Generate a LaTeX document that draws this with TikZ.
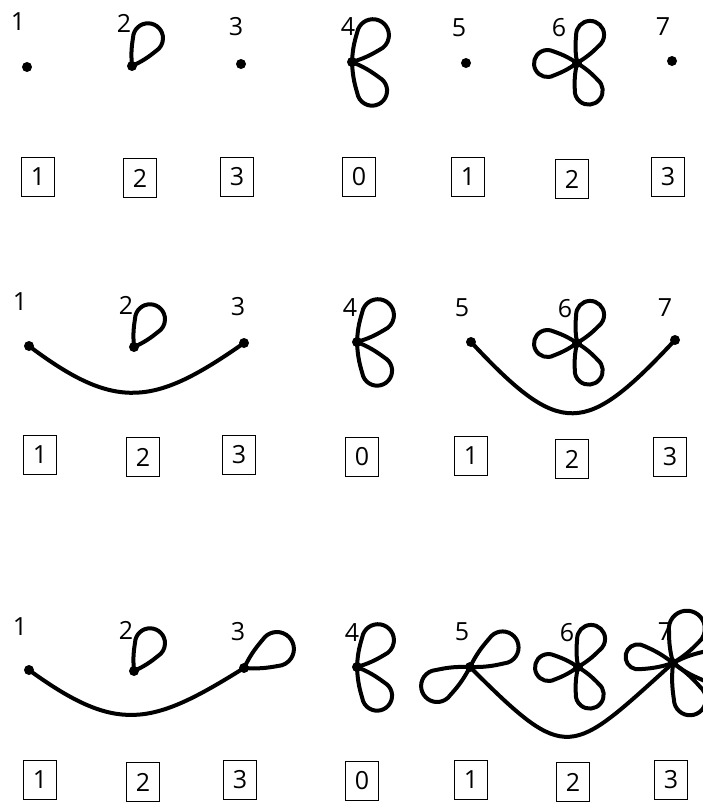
\documentclass[tikz,border=0pt]{standalone}
\usepackage{fontspec}
\setmainfont{Open Sans}
\usetikzlibrary{calc}
% teardrop loop at a node: #1 node, #2 axis angle, #3 tip distance, #4 tip radius
\newcommand{\petal}[4]{%
  \pgfmathsetmacro\ptD{#3-#4}%
  \pgfmathsetmacro\ptd{asin(#4/\ptD)}%
  \pgfmathsetmacro\ptT{sqrt(\ptD*\ptD-#4*#4)}%
  \pgfmathsetmacro\ptA{#2+\ptd}%
  \pgfmathsetmacro\ptS{#2+\ptd+90}%
  \pgfmathsetmacro\ptE{#2-\ptd-90}%
  \draw[edge] (#1.center) to[bend left=7] ++(\ptA:\ptT) arc[start angle=\ptS,end angle=\ptE,radius=#4] to[bend left=7] (#1.center);}
\begin{document}
\begin{tikzpicture}[x=1pt,y=1pt,
  dot/.style={circle,fill=black,inner sep=0pt,minimum size=10pt},
  edge/.style={line width=4pt,line cap=round,line join=round},
  num/.style={font=\fontsize{25}{25}\selectfont,inner sep=0pt},
  boxed/.style={draw,line width=1.7pt,minimum width=33pt,minimum height=39pt,inner sep=0pt,font=\fontsize{25}{25}\selectfont}]
\useasboundingbox (0,0) rectangle (703,-804);
\clip (0,0) rectangle (703,-804);
% ---------- row 1 ----------
\node[dot] (a1) at (27,-67) {};
\node[dot] (a2) at (132,-66) {};
\node[dot] (a3) at (241,-64) {};
\node[dot] (a4) at (352,-62) {};
\node[dot] (a5) at (466,-63) {};
\node[dot] (a6) at (577,-63) {};
\node[dot] (a7) at (672,-61) {};
\node[num] (la1) at (18,-22) {1};
\node[num] (la2) at (124,-23) {2};
\node[num] (la3) at (236,-27) {3};
\node[num] (la4) at (348,-27) {4};
\node[num] (la5) at (459,-28) {5};
\node[num] (la6) at (559,-28) {6};
\node[num] (la7) at (663,-27) {7};
\petal{a2}{60}{47}{15}
\petal{a4}{52}{50}{16}
\petal{a4}{-55}{50}{15}
\petal{a6}{65}{45}{14}
\petal{a6}{181}{43}{13.5}
\petal{a6}{-67}{44}{14}
\node[boxed] (ba1) at (38,-177) {1};
\node[boxed] (ba2) at (140,-178) {2};
\node[boxed] (ba3) at (237,-177) {3};
\node[boxed] (ba4) at (359,-177) {0};
\node[boxed] (ba5) at (468,-177) {1};
\node[boxed] (ba6) at (572,-179) {2};
\node[boxed] (ba7) at (668,-177) {3};
% ---------- row 2 ----------
\node[dot] (b1) at (29,-346) {};
\node[dot] (b2) at (134,-347) {};
\node[dot] (b3) at (244,-343) {};
\node[dot] (b4) at (357,-342) {};
\node[dot] (b5) at (471,-342) {};
\node[dot] (b6) at (577,-343) {};
\node[dot] (b7) at (675,-340) {};
\node[num] (lb1) at (20,-302) {1};
\node[num] (lb2) at (126,-305) {2};
\node[num] (lb3) at (238,-307) {3};
\node[num] (lb4) at (350,-308) {4};
\node[num] (lb5) at (462,-308) {5};
\node[num] (lb6) at (565,-309) {6};
\node[num] (lb7) at (665,-308) {7};
\petal{b2}{60}{47}{15}
\petal{b4}{52}{50}{16}
\petal{b4}{-55}{50}{15}
\petal{b6}{65}{45}{14}
\petal{b6}{181}{43}{13.5}
\petal{b6}{-67}{44}{14}
\draw[edge] (b1.center) to[out=-37,in=-145,looseness=1.3] (b3.center);
\draw[edge] (b5.center) to[out=-47,in=-133,looseness=1.65] (b7.center);
\node[boxed] (bb1) at (40,-455) {1};
\node[boxed] (bb2) at (143,-457) {2};
\node[boxed] (bb3) at (239,-455) {3};
\node[boxed] (bb4) at (362,-457) {0};
\node[boxed] (bb5) at (471,-456) {1};
\node[boxed] (bb6) at (572,-459) {2};
\node[boxed] (bb7) at (670,-457) {3};
% ---------- row 3 ----------
\node[dot] (c1) at (29,-670) {};
\node[dot] (c2) at (134,-671) {};
\node[dot] (c3) at (244,-668) {};
\node[dot] (c4) at (357,-667) {};
\node[dot] (c5) at (470,-667) {};
\node[dot] (c6) at (578,-667) {};
\node[dot] (c7) at (673,-663) {};
\node[num] (lc1) at (20,-627) {1};
\node[num] (lc2) at (126,-630) {2};
\node[num] (lc3) at (238,-632) {3};
\node[num] (lc4) at (352,-633) {4};
\node[num] (lc5) at (462,-632) {5};
\node[num] (lc6) at (567,-633) {6};
\node[num] (lc7) at (665,-632) {7};
\petal{c2}{60}{47}{15}
\petal{c3}{30}{55}{17}
\petal{c4}{52}{50}{16}
\petal{c4}{-55}{50}{15}
\petal{c5}{31}{54}{16}
\petal{c5}{210}{54}{16}
\petal{c6}{65}{45}{14}
\petal{c6}{181}{43}{13.5}
\petal{c6}{-67}{44}{14}
\petal{c7}{170}{48}{12.5}
\petal{c7}{68}{55}{18}
\petal{c7}{-65}{56}{16}
\petal{c7}{-5}{50}{15}
\draw[edge] (c1.center) to[out=-36,in=-148,looseness=1.3] (c3.center);
\draw[edge] (c5.center) to[out=-45,in=-138,looseness=1.75] (c7.center);
\node[boxed] (bc1) at (40,-780) {1};
\node[boxed] (bc2) at (143,-782) {2};
\node[boxed] (bc3) at (240,-780) {3};
\node[boxed] (bc4) at (362,-781) {0};
\node[boxed] (bc5) at (471,-780) {1};
\node[boxed] (bc6) at (573,-782) {2};
\node[boxed] (bc7) at (671,-780) {3};
\end{tikzpicture}
\end{document}
